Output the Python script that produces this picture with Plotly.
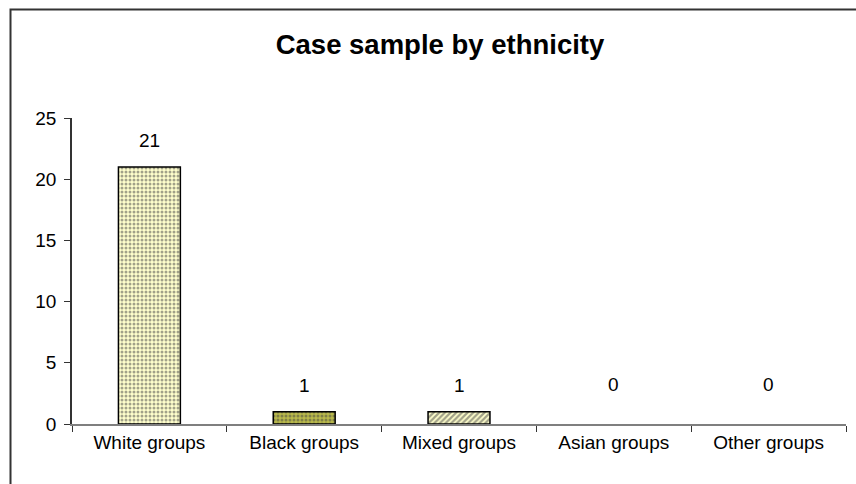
import plotly.graph_objects as go

categories = ["White groups", "Black groups", "Mixed groups", "Asian groups", "Other groups"]
values = [21, 1, 1, 0, 0]
title_text = "Case sample by ethnicity"
y_ticks = [0, 5, 10, 15, 20, 25]

W, H = 856, 484
L, R, T, B = 72, 10, 118, 60
pw, ph = W - L - R, H - T - B
FONT = "Liberation Sans, Arial"

def px_to_paper(x, y):
    return (x - L) / pw, (H - B - y) / ph

fig = go.Figure()
fig.add_trace(go.Bar(
    x=categories, y=values, width=0.4,
    marker=dict(
        color=["#ffffcc", "#b8b84a", "#ffffcc", "#ffffcc", "#ffffcc"],
        line=dict(color="#000000", width=[1.5 if v > 0 else 0 for v in values]),
        pattern=dict(
            shape=[".", ".", "/", ".", "."],
            fgcolor=["#b3b34d", "#6b6b10", "#99990f", "#b3b34d", "#b3b34d"],
            bgcolor=["#ffffcc", "#c9c95a", "#ffffee", "#ffffcc", "#ffffcc"],
            size=4, solidity=[0.45, 0.45, 0.55, 0.45, 0.45],
        ),
    ),
    hoverinfo="skip",
))

for c, v in zip(categories, values):
    fig.add_annotation(x=c, y=v, text=str(v), showarrow=False,
                       yshift=26 if v > 0 else 40,
                       font=dict(family=FONT, size=19, color="#000"))

x0, y0 = px_to_paper(10.5, 500)
x1, y1 = px_to_paper(10.5, 9.5)
x2, _ = px_to_paper(880, 9.5)
fig.add_shape(type="path", xref="paper", yref="paper",
              path=f"M {x0},{y0} L {x1},{y1} L {x2},{y1}",
              line=dict(color="#333333", width=2))

fig.update_layout(
    width=W, height=H,
    margin=dict(l=L, r=R, t=T, b=B),
    paper_bgcolor="white", plot_bgcolor="white",
    showlegend=False,
    font=dict(family=FONT, size=19, color="#000"),
    title=dict(text=f"<b>{title_text}</b>", x=440 / W, xanchor="center", xref="container",
               y=1 - 44 / H, yanchor="middle", yref="container",
               font=dict(size=27.5, family=FONT, color="#000")),
    xaxis=dict(showline=True, linecolor="#7f7f7f", linewidth=1.5,
               ticks="outside", tickson="boundaries", ticklen=6, tickcolor="#333",
               showgrid=False, zeroline=False, tickfont=dict(size=19)),
    yaxis=dict(range=[0, 25], tickvals=y_ticks, showline=True, linecolor="#333",
               linewidth=1.5, ticks="outside", ticklen=6, tickcolor="#333",
               ticklabelstandoff=4,
               showgrid=False, zeroline=False, tickfont=dict(size=19)),
)

fig.write_html("out.html", config={"displayModeBar": False},
               post_script="document.body.style.margin='0px';")
